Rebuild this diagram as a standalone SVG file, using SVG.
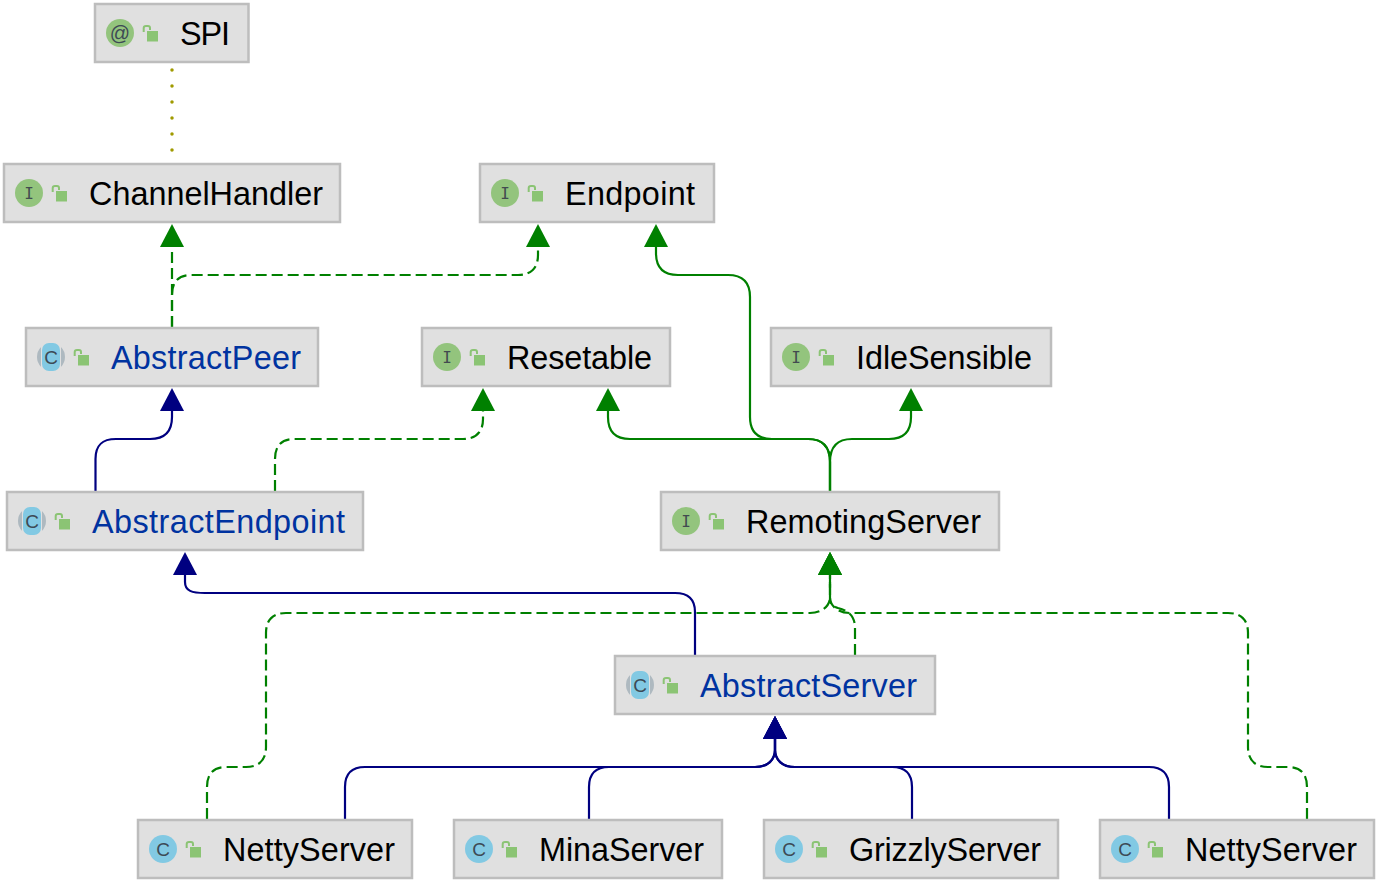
<svg xmlns="http://www.w3.org/2000/svg" width="1384" height="894" viewBox="0 0 1384 894">
<style>
  .box { fill: #e0e0e0; stroke: #bdbdbd; stroke-width: 2.5; }
  .label { font-family: "Liberation Sans", Arial, sans-serif; font-size: 32.4px; fill: #000; }
  .abstract { fill: #0033a0; }
  .glyph { font-family: "DejaVu Sans Mono", monospace; font-size: 16px; fill: #424b50; text-anchor: middle; }
  .round { font-family: "Liberation Sans", Arial, sans-serif; font-size: 19px; fill: #3d4a55; text-anchor: middle; }
  .iface { fill: #93c47d; }
  .cls { fill: #82c9e3; }
  .lock { fill: #8bc474; }
  .shackle { fill: none; stroke: #8bc474; stroke-width: 2; }
  .edge { fill: none; stroke-width: 2.2; }
  .impl { stroke: #008000; marker-end: url(#headGreen); }
  .dash { stroke-dasharray: 11 5; }
  .ext { stroke: #000080; marker-end: url(#headNavy); }
</style>
<defs>
  <marker id="headGreen" markerUnits="userSpaceOnUse" markerWidth="24" markerHeight="24" refX="0" refY="12" orient="auto" overflow="visible"><path d="M0 0L23 12L0 24Z" fill="#008000"/></marker>
  <marker id="headNavy" markerUnits="userSpaceOnUse" markerWidth="24" markerHeight="24" refX="0" refY="12" orient="auto" overflow="visible"><path d="M0 0L23 12L0 24Z" fill="#000080"/></marker>
  <g id="lock">
    <path class="shackle" d="M0.700 7V3Q0.700 1 3 1H5Q7 1 7 3V5"/>
    <rect class="lock" x="4" y="6" width="11" height="10.500"/>
  </g>
  <g id="iconI"><circle class="iface" r="14"/><text class="glyph" y="5.500">I</text></g>
  <g id="iconAt"><circle class="iface" r="14"/><text class="round" style="font-size:20px" y="6.500">@</text></g>
  <g id="iconC"><circle class="cls" r="14"/><text class="round" y="6.500">C</text></g>
  <g id="iconA">
    <circle fill="#aeb9c0" r="14"/>
    <rect x="-10" y="-15" width="20" height="30" fill="#e0e0e0"/>
    <rect x="-9" y="-14" width="18" height="28" rx="7" class="cls"/>
    <text class="round" y="6.500">C</text>
  </g>
</defs>

<g id="connectors">
  <path d="M172 70V151" fill="none" stroke="#a09a00" stroke-width="3.500" stroke-linecap="round" stroke-dasharray="0 16"/>
  <path class="edge impl dash" d="M172 327V247"/>
  <path class="edge impl dash" d="M172 327V295C172 281 179 275 192 275H518C531 275 538 268 538 255V247"/>
  <path class="edge impl" d="M830 491V462C830 447 823 439 808 439H772C757 439 750 432 750 417V297C750 282 743 275 728 275H678C663 275 656 268 656 253V247"/>
  <path class="edge impl" d="M830 491V462C830 447 823 439 808 439H630C615 439 608 432 608 417V411"/>
  <path class="edge impl" d="M830 491V462C830 447 837 439 852 439H889C904 439 911 432 911 417V411"/>
  <path class="edge impl dash" d="M275 491V459C275 445 282 439 295 439H463C476 439 483 432 483 419V411"/>
  <path class="edge ext" d="M95.500 491V459C95.500 445 102 439 116 439H150C165 439 172 432 172 417V411"/>
  <path class="edge ext" d="M695 655V612C695 599 688 593 675 593H205C192 593 185 591 185 582V575"/>
  <path class="edge impl dash" d="M855 655V628C855 614 846 610 838 608C833 606 830 604 830 600V575"/>
  <path class="edge impl dash" d="M207 819V787C207 773 214 767 227 767H246C259 767 266 760 266 747V633C266 620 273 613 286 613H810C822 613 830 606 830 597V575"/>
  <path class="edge impl dash" d="M1307 819V787C1307 773 1300 767 1287 767H1268C1255 767 1248 760 1248 747V633C1248 620 1241 613 1228 613H850C838 613 830 606 830 597V575"/>
  <path class="edge ext" d="M345 819V787C345 773 352 767 365 767H755C768 767 775 760 775 749V739"/>
  <path class="edge ext" d="M589 819V787C589 773 596 767 609 767H755C768 767 775 760 775 749V739"/>
  <path class="edge ext" d="M912 819V787C912 773 905 767 892 767H795C782 767 775 760 775 749V739"/>
  <path class="edge ext" d="M1169 819V787C1169 773 1162 767 1149 767H795C782 767 775 760 775 749V739"/>
</g>

<g id="spi"><rect class="box" x="95" y="4" width="153.500" height="58"/><use href="#iconAt" x="120" y="33"/><use href="#lock" x="143" y="25"/><text class="label" x="180" y="45" textLength="50">SPI</text></g>
<g id="channelHandler"><rect class="box" x="4" y="164" width="336" height="58"/><use href="#iconI" x="29" y="193"/><use href="#lock" x="52" y="185"/><text class="label" x="89" y="205" textLength="234">ChannelHandler</text></g>
<g id="endpoint"><rect class="box" x="480" y="164" width="234" height="58"/><use href="#iconI" x="505" y="193"/><use href="#lock" x="528" y="185"/><text class="label" x="565" y="205" textLength="130">Endpoint</text></g>
<g id="abstractPeer"><rect class="box" x="26" y="328" width="292" height="58"/><use href="#iconA" x="51" y="357"/><use href="#lock" x="74" y="349"/><text class="label abstract" x="111" y="369" textLength="190">AbstractPeer</text></g>
<g id="resetable"><rect class="box" x="422" y="328" width="248" height="58"/><use href="#iconI" x="447" y="357"/><use href="#lock" x="470" y="349"/><text class="label" x="507" y="369" textLength="145">Resetable</text></g>
<g id="idleSensible"><rect class="box" x="771" y="328" width="280" height="58"/><use href="#iconI" x="796" y="357"/><use href="#lock" x="819" y="349"/><text class="label" x="856" y="369" textLength="176">IdleSensible</text></g>
<g id="abstractEndpoint"><rect class="box" x="7" y="492" width="356" height="58"/><use href="#iconA" x="32" y="521"/><use href="#lock" x="55" y="513"/><text class="label abstract" x="92" y="533" textLength="253">AbstractEndpoint</text></g>
<g id="remotingServer"><rect class="box" x="661" y="492" width="338" height="58"/><use href="#iconI" x="686" y="521"/><use href="#lock" x="709" y="513"/><text class="label" x="746" y="533" textLength="235">RemotingServer</text></g>
<g id="abstractServer"><rect class="box" x="615" y="656" width="320" height="58"/><use href="#iconA" x="640" y="685"/><use href="#lock" x="663" y="677"/><text class="label abstract" x="700" y="697" textLength="217">AbstractServer</text></g>
<g id="nettyServerA"><rect class="box" x="138" y="820" width="274" height="58"/><use href="#iconC" x="163" y="849"/><use href="#lock" x="186" y="841"/><text class="label" x="223" y="861" textLength="172">NettyServer</text></g>
<g id="minaServer"><rect class="box" x="454" y="820" width="268" height="58"/><use href="#iconC" x="479" y="849"/><use href="#lock" x="502" y="841"/><text class="label" x="539" y="861" textLength="165">MinaServer</text></g>
<g id="grizzlyServer"><rect class="box" x="764" y="820" width="294" height="58"/><use href="#iconC" x="789" y="849"/><use href="#lock" x="812" y="841"/><text class="label" x="849" y="861" textLength="192">GrizzlyServer</text></g>
<g id="nettyServerB"><rect class="box" x="1100" y="820" width="274" height="58"/><use href="#iconC" x="1125" y="849"/><use href="#lock" x="1148" y="841"/><text class="label" x="1185" y="861" textLength="172">NettyServer</text></g>
</svg>
